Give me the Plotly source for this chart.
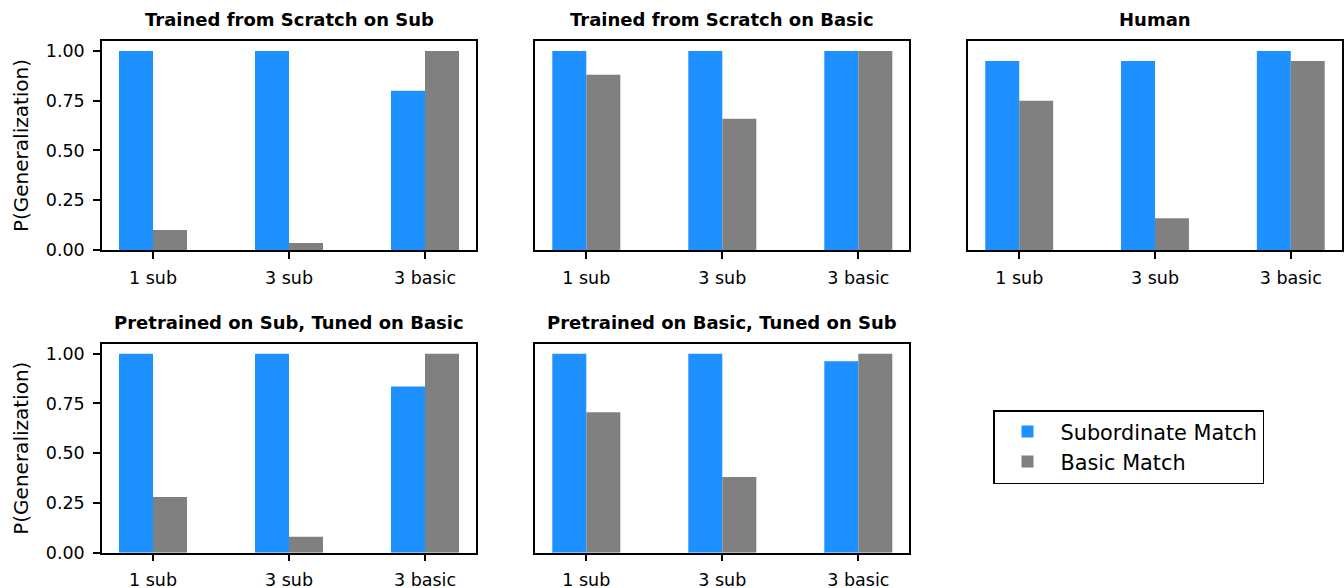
import plotly.graph_objects as go
from plotly.subplots import make_subplots

categories = ["1 sub", "3 sub", "3 basic"]
series_names = ["Subordinate Match", "Basic Match"]
panel_titles = [
    "Trained from Scratch on Sub",
    "Trained from Scratch on Basic",
    "Human",
    "Pretrained on Sub, Tuned on Basic",
    "Pretrained on Basic, Tuned on Sub",
]

scratch_sub_subordinate = [1.00, 1.00, 0.80]
scratch_sub_basic = [0.10, 0.035, 1.00]
scratch_basic_subordinate = [1.00, 1.00, 1.00]
scratch_basic_basic = [0.88, 0.66, 1.00]
human_subordinate = [0.95, 0.95, 1.00]
human_basic = [0.75, 0.16, 0.95]
pre_sub_tuned_basic_subordinate = [1.00, 1.00, 0.835]
pre_sub_tuned_basic_basic = [0.28, 0.08, 1.00]
pre_basic_tuned_sub_subordinate = [1.00, 1.00, 0.962]
pre_basic_tuned_sub_basic = [0.705, 0.38, 1.00]

panels = [
    (scratch_sub_subordinate, scratch_sub_basic),
    (scratch_basic_subordinate, scratch_basic_basic),
    (human_subordinate, human_basic),
    (pre_sub_tuned_basic_subordinate, pre_sub_tuned_basic_basic),
    (pre_basic_tuned_sub_subordinate, pre_basic_tuned_sub_basic),
]
positions = [(1, 1), (1, 2), (1, 3), (2, 1), (2, 2)]
colors = ["#1E90FF", "#808080"]

W, H = 1344, 588
FONT = "DejaVu Sans"

fig = make_subplots(rows=2, cols=3,
                    specs=[[{}, {}, {}], [{}, {}, None]],
                    horizontal_spacing=0.02, vertical_spacing=0.05)

for i, ((sub_vals, basic_vals), (r, c)) in enumerate(zip(panels, positions)):
    for j, (name, vals) in enumerate(zip(series_names, [sub_vals, basic_vals])):
        fig.add_trace(go.Bar(x=categories, y=vals, name=name,
                             marker=dict(color=colors[j], line=dict(width=0)),
                             showlegend=(i == 0), legendgroup=name),
                      row=r, col=c)

# domains in pixels (left, right) and (top, bottom)
col_px = [(102, 476), (535.3, 909.3), (968.3, 1341.7)]
row_px = [(41, 250), (343.7, 552.7)]

for i, (r, c) in enumerate(positions):
    idx = i + 1
    xa = "xaxis" if idx == 1 else f"xaxis{idx}"
    ya = "yaxis" if idx == 1 else f"yaxis{idx}"
    x0, x1 = col_px[c - 1]
    t, b = row_px[r - 1]
    fig.layout[xa].update(domain=[x0 / W, x1 / W], range=[-0.375, 2.375],
                          automargin=False, ticklabelstandoff=4,
                          showline=True, mirror=True, linecolor="black", linewidth=1.5,
                          ticks="outside", ticklen=7, tickwidth=1.5, tickcolor="black",
                          showgrid=False, zeroline=False,
                          tickfont=dict(family=FONT, size=17.5, color="black"))
    first_col = (c == 1)
    fig.layout[ya].update(domain=[1 - b / H, 1 - t / H], range=[0, 1.05],
                          automargin=False, ticklabelstandoff=5,
                          showline=True, mirror=True, linecolor="black", linewidth=1.5,
                          ticks="outside" if first_col else "", ticklen=7, tickwidth=1.5,
                          tickcolor="black",
                          showticklabels=first_col,
                          tickvals=[0, 0.25, 0.5, 0.75, 1.0], tickformat=".2f",
                          showgrid=False, zeroline=False,
                          tickfont=dict(family=FONT, size=17.5, color="black"))
    if first_col:
        fig.layout[ya].update(title=dict(text="P(Generalization)", standoff=12,
                                         font=dict(family=FONT, size=20, color="black")))
    fig.add_annotation(text=f"<b>{panel_titles[i]}</b>", xref="paper", yref="paper",
                       x=(x0 + x1) / 2 / W, y=1 - t / H, yshift=9,
                       xanchor="center", yanchor="bottom", showarrow=False,
                       font=dict(family=FONT, size=18, color="black"))

fig.update_layout(
    width=W, height=H,
    margin=dict(l=0, r=0, t=0, b=0, autoexpand=False),
    paper_bgcolor="white", plot_bgcolor="white",
    barmode="group", bargap=0.5, bargroupgap=0,
    font=dict(family=FONT, color="black"),
    legend=dict(x=993 / W, y=1 - 410 / H, xanchor="left", yanchor="top",
                bordercolor="black", borderwidth=1.5, bgcolor="white",
                font=dict(family=FONT, size=20.8, color="black"),
                itemwidth=56, tracegroupgap=0),
)

fig.write_html("out.html", config={"displayModeBar": False},
               post_script="document.body.style.margin='0';document.body.style.overflow='hidden';")
